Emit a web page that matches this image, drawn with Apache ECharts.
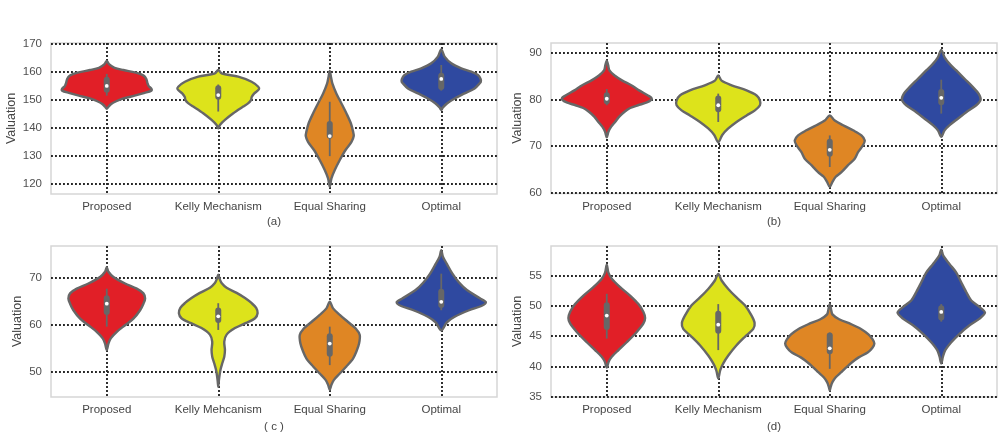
<!DOCTYPE html>
<html>
<head>
<meta charset="utf-8">
<script src="https://cdn.jsdelivr.net/npm/echarts@6/dist/echarts.min.js"></script>
<style>
html, body { margin: 0; padding: 0; background: #fff; }
#container { width: 1004px; height: 440px; }
</style>
</head>
<body>
<div id="container"></div>
<script>
// categories and captions
const categoriesMain = ['Proposed', 'Kelly Mechanism', 'Equal Sharing', 'Optimal'];
const categoriesC = ['Proposed', 'Kelly Mehcanism', 'Equal Sharing', 'Optimal'];
const captions = ['(a)', '(b)', '( c )', '(d)'];

// y tick labels for each panel
const ticksA = [120, 130, 140, 150, 160, 170];
const ticksB = [60, 70, 80, 90];
const ticksC = [50, 60, 70];
const ticksD = [35, 40, 45, 50, 55];

// violin outlines: [value, half width as a share of the category band]
const aProposed = [[164.0, 0], [162.8, .02], [161.5, .07], [160.7, .15], [159.7, .27], [158.7, .33], [157.5, .355], [156, .365], [155, .375], [154, .40], [153.3, .40], [152.5, .34], [151.5, .25], [150.5, .15], [149.5, .085], [148.5, .04], [147.5, .015], [146.8, 0]];
const aKelly = [[160.7, 0], [159.5, .03], [158.3, .179], [156.5, .299], [154.7, .359], [153.8, .365], [152.3, .323], [151, .30], [150, .295], [148.8, .27], [147.6, .224], [145.2, .135], [142.8, .06], [141, .015], [139.8, 0]];
const aEqual = [[160.4, 0], [158, .012], [155.8, .024], [152.2, .06], [148.7, .105], [145.1, .15], [141.5, .19], [138.5, .21], [137, .215], [134.9, .195], [131.9, .14], [128.4, .09], [124.8, .045], [121.8, .015], [118.8, 0]];
const aOptimal = [[168.1, 0], [165.5, .03], [163.1, .09], [161.3, .179], [160.1, .269], [158.9, .329], [157.5, .353], [156.5, .355], [155.9, .344], [154.1, .299], [152.3, .209], [150.5, .12], [148.8, .054], [147.3, .015], [146.4, 0]];

const bProposed = [[88.4, 0], [87.5, .012], [86.3, .024], [85.2, .07], [84.1, .14], [83.1, .22], [82, .29], [80.9, .37], [80.4, .40], [80.0, .40], [79.4, .36], [78.8, .28], [78.2, .21], [77.4, .16], [76.3, .11], [75.2, .075], [74.2, .04], [73.1, .015], [71.9, 0]];
const bKelly = [[85.2, 0], [84.1, .03], [83.1, .12], [82, .254], [80.9, .344], [79.8, .374], [78.8, .374], [77.7, .329], [76.6, .254], [75.2, .164], [73.8, .09], [72.4, .036], [70.8, 0]];
const bEqual = [[76.6, 0], [75.5, .045], [74.5, .12], [73.4, .209], [72.3, .284], [71.2, .314], [70.2, .299], [68.7, .254], [67.3, .224], [65.9, .164], [64.4, .105], [63.4, .054], [62.3, .024], [61.2, 0]];
const bOptimal = [[90.7, 0], [89.1, .03], [87.7, .075], [86.3, .135], [84.5, .209], [82.7, .284], [81.3, .335], [80, .353], [78.8, .314], [77.3, .224], [75.9, .149], [74.5, .075], [73.4, .03], [72, 0]];

const cProposed = [[72.3, 0], [71.3, .015], [70.2, .06], [68.8, .164], [67.7, .269], [66.7, .329], [65.6, .344], [64.5, .329], [63.1, .299], [61.3, .239], [59.9, .164], [58.5, .09], [57.1, .036], [56, .015], [54.6, 0]];
const cKelly = [[70.7, 0], [69.8, .012], [68.9, .03], [67.9, .075], [66.8, .165], [65.7, .24], [64.6, .30], [63.6, .34], [62.5, .353], [61.4, .33], [60.4, .25], [59.3, .15], [57.9, .075], [56.4, .054], [54.6, .06], [53.2, .054], [51.8, .036], [50.4, .02], [49.3, .012], [48, .005], [46.8, 0]];
const cEqual = [[64.9, 0], [63.5, .03], [62.1, .09], [60.6, .164], [59.2, .233], [57.8, .269], [56, .263], [54.3, .239], [52.8, .209], [51.1, .149], [49.6, .09], [48.2, .036], [47.2, .015], [46.1, 0]];
const cOptimal = [[75.9, 0], [74.5, .015], [73, .05], [70.9, .10], [69, .16], [67.4, .23], [65.6, .35], [64.8, .40], [64, .36], [63.1, .25], [61.7, .12], [60.5, .05], [58.8, 0]];

const dProposed = [[56.8, 0], [55.5, .015], [54.5, .045], [53.1, .12], [51.7, .209], [50.3, .284], [49, .329], [48, .344], [47.1, .329], [45.7, .269], [44, .179], [42.7, .105], [41.6, .045], [40.8, .018], [39.8, 0]];
const dKelly = [[55.3, 0], [54.2, .03], [52.8, .09], [51.4, .164], [50.1, .239], [48.4, .299], [47.2, .326], [46.2, .314], [44.9, .239], [43.5, .164], [41.8, .09], [40.5, .045], [39.4, .018], [38, 0]];
const dEqual = [[50.3, 0], [49.4, .012], [48.6, .024], [47.8, .084], [47, .19], [46.2, .28], [45.3, .347], [44.5, .383], [43.8, .40], [43.1, .383], [42.3, .34], [41.5, .26], [40.7, .20], [39.8, .145], [39, .10], [38.2, .054], [37.4, .024], [36.6, .008], [36, 0]];
const dOptimal = [[59.3, 0], [58.3, .018], [56.9, .075], [55.5, .135], [53.9, .179], [52.3, .224], [50.9, .269], [49.8, .344], [48.9, .392], [47.9, .344], [46.8, .254], [45.4, .164], [44, .09], [42.7, .036], [41.6, .015], [40.5, 0]];

// inner boxes: [lower whisker, q1, median, q3, upper whisker]
const aBoxes = [[151.5, 152.5, 155, 158.3, 159.3], [145.8, 150, 151.7, 155.2, 155.5], [129.8, 136.0, 137, 142.4, 149.3], [153.3, 153.5, 157.5, 159.7, 162.5]];
const bBoxes = [[78.8, 79, 80.2, 81.6, 82.3], [75.2, 77.3, 78.8, 80.9, 81.3], [65.5, 67.7, 69.2, 71.6, 72.3], [77, 78.8, 80.4, 82.3, 84.3]];
const cBoxes = [[59.6, 62.1, 64.5, 66.3, 67.7], [58.9, 60.4, 61.8, 63.7, 64.6], [51.4, 53.2, 56, 58.2, 59.6], [63.1, 63.6, 64.9, 67.7, 70.9]];
const dBoxes = [[44.6, 46, 48.4, 50.6, 52], [42.7, 45.4, 46.9, 49.2, 50.3], [39.6, 42, 43, 45.6, 45.6], [47.4, 47.6, 49, 50.1, 50.3]];

const colors = ['#e11f27', '#dde31b', '#df8624', '#2f49a0'];
const edgeColor = '#676767';
const FONT = '"Liberation Sans", Arial, sans-serif';

const panels = [
  { profiles: [aProposed, aKelly, aEqual, aOptimal], boxes: aBoxes, ticks: ticksA, cats: categoriesMain,
    min: 116.2, max: 170.4, grid: { left: 51, top: 43, width: 446, height: 151 }, nameGap: 33, capGap: 22 },
  { profiles: [bProposed, bKelly, bEqual, bOptimal], boxes: bBoxes, ticks: ticksB, cats: categoriesMain,
    min: 59.8, max: 92.2, grid: { left: 551, top: 43, width: 446, height: 150.5 }, nameGap: 27, capGap: 22 },
  { profiles: [cProposed, cKelly, cEqual, cOptimal], boxes: cBoxes, ticks: ticksC, cats: categoriesC,
    min: 44.6, max: 76.8, grid: { left: 51, top: 246, width: 446, height: 151 }, nameGap: 27, capGap: 24 },
  { profiles: [dProposed, dKelly, dEqual, dOptimal], boxes: dBoxes, ticks: ticksD, cats: categoriesMain,
    min: 34.95, max: 59.9, grid: { left: 551, top: 246, width: 446, height: 151 }, nameGap: 27, capGap: 24 },
];

const dotted = { show: true, lineStyle: { color: '#262626', width: 1.9, type: [1.9, 2.1] } };

function violinRender(profiles, boxes) {
  return function (params, api) {
    const i = api.value(0);
    const prof = profiles[i];
    const box = boxes[i];
    const band = api.size([1, 0])[0];
    const right = [];
    const left = [];
    prof.forEach(function (p, k) {
      const c = api.coord([i, p[0]]);
      right.push([c[0] + p[1] * band, c[1]]);
      if (k > 0 && k < prof.length - 1) left.push([c[0] - p[1] * band, c[1]]);
    });
    const pts = right.concat(left.reverse());
    const lo = api.coord([i, box[0]]);
    const q1 = api.coord([i, box[1]]);
    const med = api.coord([i, box[2]]);
    const q3 = api.coord([i, box[3]]);
    const hi = api.coord([i, box[4]]);
    const bw = 6;
    return {
      type: 'group',
      children: [
        { type: 'polygon', shape: { points: pts, smooth: 0.3 },
          style: { fill: colors[i], stroke: edgeColor, lineWidth: 2.4, lineJoin: 'round' } },
        { type: 'line', shape: { x1: lo[0], y1: lo[1], x2: hi[0], y2: hi[1] },
          style: { stroke: edgeColor, lineWidth: 1.8 } },
        { type: 'rect', shape: { x: q3[0] - bw / 2, y: q3[1], width: bw, height: q1[1] - q3[1], r: bw / 2 },
          style: { fill: edgeColor } },
        { type: 'circle', shape: { cx: med[0], cy: med[1], r: 1.9 },
          style: { fill: '#ffffff' } },
      ],
    };
  };
}

const dom = document.getElementById('container');
const myChart = echarts.init(dom);

const option = {
  animation: false,
  backgroundColor: '#ffffff',
  textStyle: { fontFamily: FONT },
  grid: panels.map(function (p) {
    return Object.assign({ show: true, borderColor: '#d6d6d6', borderWidth: 1.5, containLabel: false }, p.grid);
  }),
  xAxis: panels.map(function (p, n) {
    return {
      type: 'value', gridIndex: n, min: -0.5, max: 3.5,
      axisLine: { show: false },
      axisTick: { show: false, customValues: [0, 1, 2, 3] },
      axisLabel: { customValues: [0, 1, 2, 3], margin: 7, color: '#454545', fontSize: 11.5, fontFamily: FONT,
        formatter: function (v) { return p.cats[Math.round(v)]; } },
      splitLine: dotted,
      name: captions[n], nameLocation: 'middle', nameGap: p.capGap,
      nameTextStyle: { color: '#454545', fontSize: 11.5, fontFamily: FONT },
    };
  }),
  yAxis: panels.map(function (p, n) {
    return {
      type: 'value', gridIndex: n, min: p.min, max: p.max,
      axisLine: { show: false },
      axisTick: { show: false, customValues: p.ticks },
      axisLabel: { customValues: p.ticks, margin: 9, color: '#505050', fontSize: 11.5, fontFamily: FONT },
      splitLine: dotted,
      name: 'Valuation', nameLocation: 'middle', nameRotate: 90, nameGap: p.nameGap,
      nameTextStyle: { color: '#454545', fontSize: 12.5, fontFamily: FONT },
    };
  }),
  series: panels.map(function (p, n) {
    return {
      type: 'custom', xAxisIndex: n, yAxisIndex: n, silent: true,
      renderItem: violinRender(p.profiles, p.boxes),
      encode: { x: 0, y: 1 },
      data: p.boxes.map(function (b, i) { return [i, b[2]]; }),
    };
  }),
};

myChart.setOption(option, true);
</script>
</body>
</html>
